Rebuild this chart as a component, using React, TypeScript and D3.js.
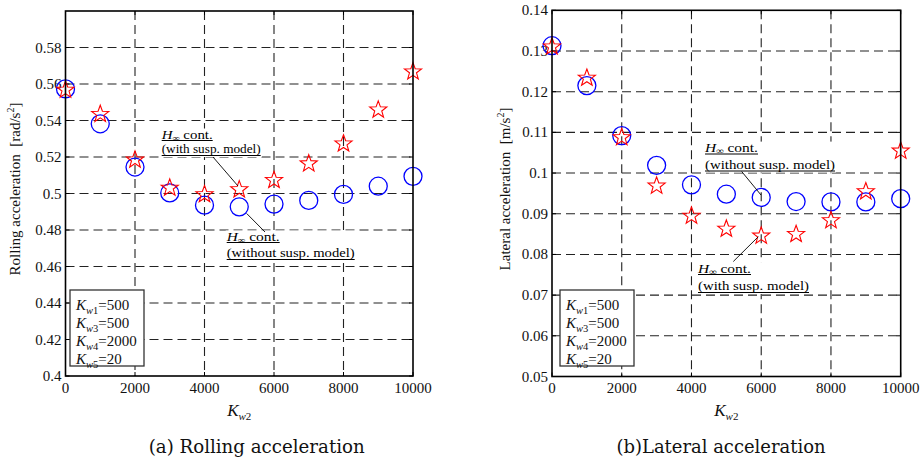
import React from "react";
import * as d3 from "d3";

const kw2 = [0, 1000, 2000, 3000, 4000, 5000, 6000, 7000, 8000, 9000, 10000];
const rollWithout = [0.5573, 0.5382, 0.5145, 0.5003, 0.4936, 0.4927, 0.4942, 0.4962, 0.4995, 0.504, 0.5094];
const rollWith = [0.5573, 0.544, 0.519, 0.5036, 0.5, 0.5027, 0.5078, 0.5169, 0.5278, 0.5464, 0.5673];
const latWithout = [0.1313, 0.1215, 0.1092, 0.1019, 0.0971, 0.0948, 0.094, 0.093, 0.0929, 0.0929, 0.0937];
const latWith = [0.1313, 0.1236, 0.109, 0.0971, 0.0897, 0.0865, 0.0848, 0.0852, 0.0886, 0.0957, 0.1057];
const xTicks = [0, 2000, 4000, 6000, 8000, 10000];
const rollTicks = [0.4, 0.42, 0.44, 0.46, 0.48, 0.5, 0.52, 0.54, 0.56, 0.58];
const latTicks = [0.05, 0.06, 0.07, 0.08, 0.09, 0.1, 0.11, 0.12, 0.13, 0.14];
const legendItems = [
  { sub: "1", val: "500" },
  { sub: "3", val: "500" },
  { sub: "4", val: "2000" },
  { sub: "5", val: "20" },
];

const SERIF = "'Liberation Serif', 'Times New Roman', serif";
const CAPTION_FONT = "'DejaVu Serif', serif";

function starPath(R: number, r: number) {
  const pts: [number, number][] = [];
  for (let i = 0; i < 10; i++) {
    const a = -Math.PI / 2 + (i * Math.PI) / 5;
    const rad = i % 2 === 0 ? R : r;
    pts.push([Math.cos(a) * rad, Math.sin(a) * rad]);
  }
  return d3.line()(pts) + "Z";
}
const STAR = starPath(9, 3.7);

type Ann = {
  x: number;
  y1: number;
  y2: number;
  line2: string;
  u1: number;
  u2: number;
  fs: number;
  leader: [number, number, number, number];
};

function Annotation({ a }: { a: Ann }) {
  return (
    <g fontFamily={SERIF} fontSize={a.fs} fill="#000">
      <rect x={a.x - 1} y={a.y1 - a.fs * 0.8} width={a.u2 + 2} height={a.y2 - a.y1 + a.fs * 0.8 + 4} fill="#fff" />
      <text x={a.x} y={a.y1} textLength={a.u1} lengthAdjust="spacingAndGlyphs">
        <tspan fontStyle="italic">H</tspan>
        <tspan fontStyle="italic" fontSize={a.fs * 0.68} dy={2}>∞</tspan>
        <tspan dy={-2}> cont.</tspan>
      </text>
      <text x={a.x} y={a.y2} textLength={a.u2} lengthAdjust="spacingAndGlyphs">{a.line2}</text>
      <line x1={a.x} x2={a.x + a.u1} y1={a.y1 + 2} y2={a.y1 + 2} stroke="#000" strokeWidth={1} />
      <line x1={a.x} x2={a.x + a.u2} y1={a.y2 + 2.5} y2={a.y2 + 2.5} stroke="#000" strokeWidth={1} />
      <line x1={a.leader[0]} y1={a.leader[1]} x2={a.leader[2]} y2={a.leader[3]} stroke="#000" strokeWidth={0.9} />
    </g>
  );
}

type PanelProps = {
  x0: number;
  x1: number;
  yTop: number;
  yBot: number;
  yDomain: [number, number];
  yTicks: number[];
  without: number[];
  withS: number[];
  ylabel: string;
  ylabelUnit: string;
  ylabelX: number;
  caption: string;
  captionX: number;
  captionW: number;
  legendX: number;
  anns: Ann[];
};

function Panel(p: PanelProps) {
  const x = d3.scaleLinear().domain([0, 10000]).range([p.x0, p.x1]);
  const y = d3.scaleLinear().domain(p.yDomain).range([p.yBot, p.yTop]);
  const fmt = (v: number) => String(+v.toFixed(3));
  const midY = 189;
  return (
    <g>
      {/* grid */}
      {xTicks.filter((t) => t > 0 && t < 10000).map((t) => (
        <line key={"gx" + t} x1={x(t)} x2={x(t)} y1={p.yTop} y2={p.yBot} stroke="#222" strokeWidth={1.1} strokeDasharray="9,5" />
      ))}
      {p.yTicks.filter((t) => t > p.yDomain[0] + 1e-9 && t < p.yDomain[1] - 1e-9).map((t) => (
        <line key={"gy" + t} x1={p.x0} x2={p.x1} y1={y(t)} y2={y(t)} stroke="#222" strokeWidth={1.1} strokeDasharray="9,5" />
      ))}
      {/* inward ticks */}
      {xTicks.map((t) => (
        <g key={"tx" + t}>
          <line x1={x(t)} x2={x(t)} y1={p.yBot} y2={p.yBot - 4} stroke="#000" />
          <line x1={x(t)} x2={x(t)} y1={p.yTop} y2={p.yTop + 4} stroke="#000" />
        </g>
      ))}
      {p.yTicks.map((t) => (
        <g key={"ty" + t}>
          <line x1={p.x0} x2={p.x0 + 4} y1={y(t)} y2={y(t)} stroke="#000" />
          <line x1={p.x1} x2={p.x1 - 4} y1={y(t)} y2={y(t)} stroke="#000" />
        </g>
      ))}
      {/* tick labels */}
      <g fontFamily={SERIF} fontSize={15} fill="#111">
        {p.yTicks.map((t) => (
          <text key={"ly" + t} x={p.x0 - 4} y={y(t)} textAnchor="end" dominantBaseline="central">{fmt(t)}</text>
        ))}
        {xTicks.map((t) => (
          <text key={"lx" + t} x={x(t)} y={393} textAnchor="middle">{t}</text>
        ))}
      </g>
      {/* y label */}
      <text transform={`translate(${p.ylabelX},${midY}) rotate(-90)`} textAnchor="middle" fontFamily={SERIF} fontSize={15} fill="#111" dominantBaseline="central">
        {p.ylabel}
        <tspan xmlSpace="preserve">{"  [" + p.ylabelUnit}</tspan>
        <tspan fontSize={10} dy={-5}>2</tspan>
        <tspan dy={5}>]</tspan>
      </text>
      {/* x label */}
      <text x={(p.x0 + p.x1) / 2} y={416} textAnchor="middle" fontFamily={SERIF} fontSize={17} fill="#111">
        <tspan fontStyle="italic">K</tspan>
        <tspan fontSize={11} dy={4} fontStyle="italic">w</tspan>
        <tspan fontSize={11}>2</tspan>
      </text>
      {/* caption */}
      <text x={p.captionX} y={453} textAnchor="middle" fontFamily={CAPTION_FONT} fontSize={18} fill="#111" textLength={p.captionW} lengthAdjust="spacingAndGlyphs">
        {p.caption}
      </text>
      {/* markers */}
      {kw2.map((k, i) => (
        <circle key={"c" + i} cx={x(k)} cy={y(p.without[i])} r={9} fill="none" stroke="#0000ff" strokeWidth={1.3} />
      ))}
      {kw2.map((k, i) => (
        <path key={"s" + i} d={STAR} transform={`translate(${x(k)},${y(p.withS[i]) + 1})`} fill="none" stroke="#ff0000" strokeWidth={1.1} />
      ))}
      {p.anns.map((a, i) => (
        <Annotation key={"a" + i} a={a} />
      ))}
      {/* legend box */}
      <rect x={p.legendX} y={290} width={74} height={76} fill="#fff" stroke="#333" strokeWidth={1.3} />
      <g fontFamily={SERIF} fontSize={15} fill="#111">
        {legendItems.map((it, i) => (
          <text key={"lg" + i} x={p.legendX + 6} y={310 + i * 18}>
            <tspan fontStyle="italic">K</tspan>
            <tspan fontSize={10.5} fontStyle="italic" dy={3.5}>w</tspan>
            <tspan fontSize={10.5}>{it.sub}</tspan>
            <tspan dy={-3.5}>{"=" + it.val}</tspan>
          </text>
        ))}
      </g>
      {/* frame */}
      <rect x={p.x0} y={p.yTop} width={p.x1 - p.x0} height={p.yBot - p.yTop} fill="none" stroke="#000" strokeWidth={1.6} />
    </g>
  );
}

export default function App() {
  const leftAnns: Ann[] = [
    { x: 161.7, y1: 138.5, y2: 153, fs: 12.5, line2: "(with susp. model)", u1: 51, u2: 99, leader: [213, 157, 238, 186] },
    { x: 226.7, y1: 240.5, y2: 257, fs: 12.5, line2: "(without susp. model)", u1: 53, u2: 128, leader: [246.7, 213.5, 265, 232] },
  ];
  const rightAnns: Ann[] = [
    { x: 705, y1: 152, y2: 168.5, fs: 13, line2: "(without susp. model)", u1: 53, u2: 130, leader: [741.7, 171.5, 761, 195] },
    { x: 698, y1: 272.5, y2: 290, fs: 13, line2: "(with susp. model)", u1: 53, u2: 111, leader: [733.3, 261.5, 758.3, 236.7] },
  ];
  return (
    <svg width={920} height={461} style={{ position: "absolute", left: 0, top: 0, background: "#fff" }}>
      <rect width={920} height={461} fill="#fff" />
      <Panel
        x0={65.5}
        x1={413}
        yTop={11}
        yBot={376}
        yDomain={[0.4, 0.6]}
        yTicks={rollTicks}
        without={rollWithout}
        withS={rollWith}
        ylabel="Rolling acceleration"
        ylabelUnit="rad/s"
        ylabelX={15}
        caption="(a) Rolling acceleration"
        captionX={256.7}
        captionW={216}
        legendX={70}
        anns={leftAnns}
      />
      <Panel
        x0={552}
        x1={900.7}
        yTop={10.3}
        yBot={376.5}
        yDomain={[0.05, 0.14]}
        yTicks={latTicks}
        without={latWithout}
        withS={latWith}
        ylabel="Lateral acceleration"
        ylabelUnit="m/s"
        ylabelX={505}
        caption="(b)Lateral acceleration"
        captionX={721}
        captionW={209}
        legendX={560}
        anns={rightAnns}
      />
    </svg>
  );
}
